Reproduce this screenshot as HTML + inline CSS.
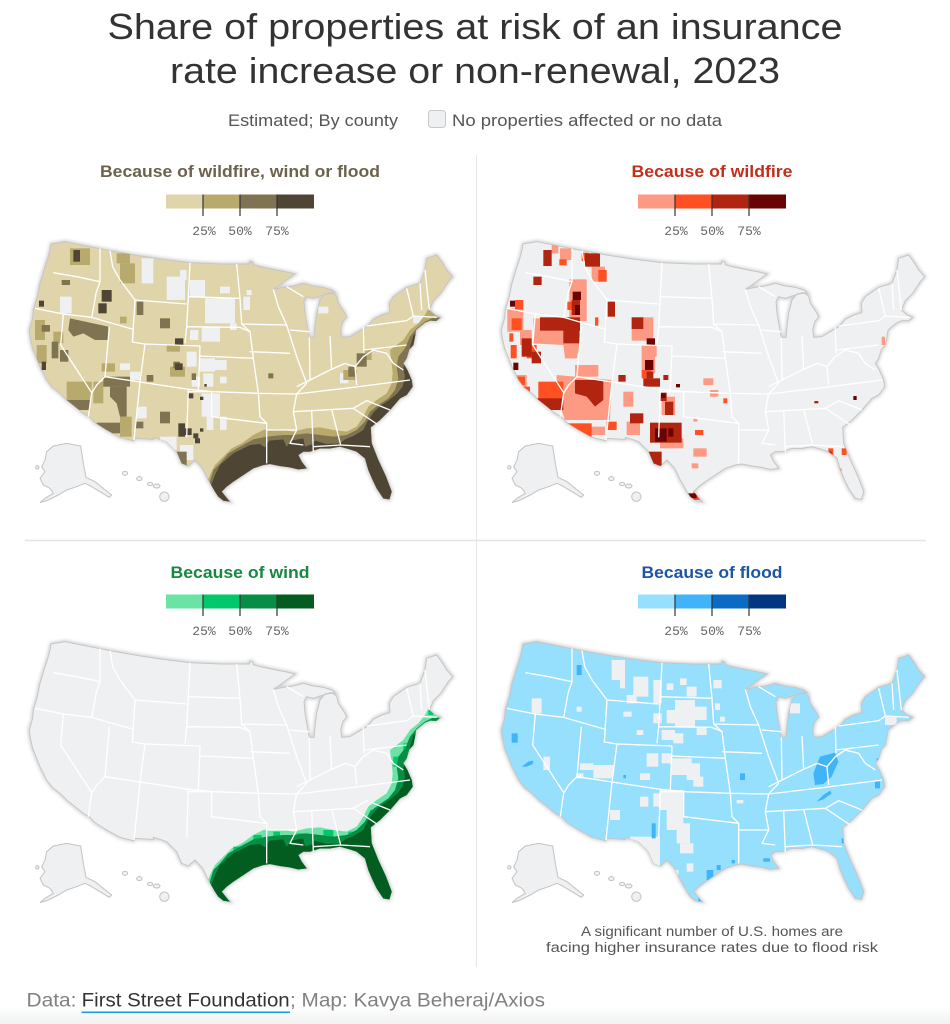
<!DOCTYPE html>
<html><head><meta charset="utf-8"><style>
html,body{margin:0;padding:0;background:#fff;}
svg{display:block;}
text{font-family:"Liberation Sans",Arial,sans-serif;}
.mono{font-family:"Liberation Mono",monospace;}
</style></head><body>
<svg width="950" height="1024" viewBox="0 0 950 1024" xmlns="http://www.w3.org/2000/svg">
<defs>
<linearGradient id="fg" x1="0" y1="0" x2="0" y2="1"><stop offset="0" stop-color="#ffffff"/><stop offset="1" stop-color="#f1f2f2"/></linearGradient>
<filter id="blur" x="-10%" y="-10%" width="120%" height="120%"><feGaussianBlur stdDeviation="5"/></filter>
<path id="us" d="M93,42 L135,35 L200,48 L270,62 L350,76 L430,88 L510,98 L600,102 L688,102 L690,94 L698,96 L700,104 L720,110 L760,118 L800,126 L825,132 L800,150 L775,168 L760,178 L790,172 L820,168 L850,160 L880,168 L910,172 L935,180 L945,188 L920,192 L900,198 L880,205 L860,200 L852,215 L855,250 L862,290 L868,322 L882,322 L885,290 L890,250 L900,210 L915,192 L935,188 L950,198 L955,220 L975,250 L980,262 L968,275 L962,300 L965,322 L990,320 L1015,305 L1040,290 L1050,280 L1060,268 L1085,255 L1110,248 L1108,220 L1120,200 L1160,172 L1200,160 L1215,120 L1220,85 L1250,75 L1268,100 L1280,120 L1298,140 L1285,155 L1262,190 L1240,212 L1228,240 L1245,255 L1262,262 L1250,272 L1230,272 L1215,278 L1200,290 L1188,300 L1185,320 L1180,345 L1168,358 L1160,385 L1150,400 L1162,420 L1175,450 L1178,470 L1160,495 L1140,505 L1110,540 L1080,570 L1052,592 L1055,640 L1075,690 L1098,740 L1115,785 L1108,808 L1090,805 L1070,775 L1058,750 L1045,720 L1035,685 L1010,665 L990,658 L960,650 L930,655 L900,655 L870,665 L850,665 L835,675 L845,695 L860,715 L835,718 L810,712 L780,708 L750,702 L730,705 L700,715 L670,735 L640,755 L620,770 L605,785 L625,810 L630,815 L610,812 L595,800 L585,785 L565,750 L548,715 L525,690 L505,708 L485,700 L470,665 L440,635 L420,628 L400,622 L400,628 L345,625 L340,632 L300,622 L260,600 L225,578 L210,562 L190,550 L165,530 L140,510 L120,490 L97,472 L80,450 L70,430 L60,410 L50,385 L38,355 L32,330 L28,300 L38,265 L40,240 L52,200 L60,160 L72,120 L85,80 L90,60 Z"/>
<clipPath id="usclip"><path d="M93,42 L135,35 L200,48 L270,62 L350,76 L430,88 L510,98 L600,102 L688,102 L690,94 L698,96 L700,104 L720,110 L760,118 L800,126 L825,132 L800,150 L775,168 L760,178 L790,172 L820,168 L850,160 L880,168 L910,172 L935,180 L945,188 L920,192 L900,198 L880,205 L860,200 L852,215 L855,250 L862,290 L868,322 L882,322 L885,290 L890,250 L900,210 L915,192 L935,188 L950,198 L955,220 L975,250 L980,262 L968,275 L962,300 L965,322 L990,320 L1015,305 L1040,290 L1050,280 L1060,268 L1085,255 L1110,248 L1108,220 L1120,200 L1160,172 L1200,160 L1215,120 L1220,85 L1250,75 L1268,100 L1280,120 L1298,140 L1285,155 L1262,190 L1240,212 L1228,240 L1245,255 L1262,262 L1250,272 L1230,272 L1215,278 L1200,290 L1188,300 L1185,320 L1180,345 L1168,358 L1160,385 L1150,400 L1162,420 L1175,450 L1178,470 L1160,495 L1140,505 L1110,540 L1080,570 L1052,592 L1055,640 L1075,690 L1098,740 L1115,785 L1108,808 L1090,805 L1070,775 L1058,750 L1045,720 L1035,685 L1010,665 L990,658 L960,650 L930,655 L900,655 L870,665 L850,665 L835,675 L845,695 L860,715 L835,718 L810,712 L780,708 L750,702 L730,705 L700,715 L670,735 L640,755 L620,770 L605,785 L625,810 L630,815 L610,812 L595,800 L585,785 L565,750 L548,715 L525,690 L505,708 L485,700 L470,665 L440,635 L420,628 L400,622 L400,628 L345,625 L340,632 L300,622 L260,600 L225,578 L210,562 L190,550 L165,530 L140,510 L120,490 L97,472 L80,450 L70,430 L60,410 L50,385 L38,355 L32,330 L28,300 L38,265 L40,240 L52,200 L60,160 L72,120 L85,80 L90,60 Z"/></clipPath>
<path id="states" fill="none" stroke="#ffffff" stroke-width="4" stroke-linejoin="round" d="M100,128 L170,140 L240,155 M240,55 L240,155 L228,190 L222,225 L215,262 M45,235 L130,252 L215,262 L340,298 M130,252 L122,345 L215,488 L205,560 M268,290 L255,440 L230,465 L215,490 M255,440 L360,456 L505,478 L580,485 L715,490 L830,492 L1000,472 L1170,450 M360,456 L342,630 M505,478 L500,622 M340,298 L337,336 L375,342 L540,348 M375,342 L360,456 M345,210 L500,222 M345,210 L337,336 M270,62 L278,110 L300,150 L330,190 L345,210 M510,98 L505,200 L500,290 L495,340 M540,348 L535,480 M505,200 L660,205 M500,290 L660,292 L690,305 M540,378 L700,385 M650,102 L660,205 L665,282 L800,285 M665,282 L690,305 L700,385 L715,490 M690,365 L810,370 M760,178 L775,230 L800,285 M810,300 L868,305 M800,285 L830,380 L860,460 L830,492 M868,322 L870,450 M930,318 L935,420 M1030,290 L1032,370 M1040,288 L1160,272 M1032,360 L1160,345 M830,470 L870,450 L930,420 L975,400 L1005,410 L1030,380 M830,492 L820,545 L1000,535 M740,600 L830,600 L810,640 L850,645 M820,545 L830,600 M875,540 L880,665 M935,538 L962,645 L1050,650 M880,650 L962,645 M1000,535 L1040,512 L1110,540 M1000,535 L1075,585 M715,490 L720,560 L740,580 L740,700 M575,485 L575,560 L740,580 M505,485 L575,485 M1160,175 L1180,258 M1200,160 L1205,240 M1215,120 L1228,240 M1180,258 L1250,262 M1160,272 L1180,258 M1030,380 L1060,360 L1100,370 L1120,400 L1150,420 M1010,465 L1005,410 M800,170 L850,200"/>
<g id="akhi" fill="#eff0f1" stroke="#c2c2c2" stroke-width="3">
<path d="M80,665 L100,648 L140,640 L182,648 L190,700 L198,742 L225,755 L250,775 L275,795 L268,802 L240,785 L215,770 L195,760 L170,770 L140,780 L115,795 L85,810 L60,818 L75,805 L100,790 L90,775 L70,765 L60,745 L75,725 L65,710 L75,690 Z"/>
<circle cx="52" cy="712" r="5"/>
<ellipse cx="315" cy="730" rx="8" ry="6"/><ellipse cx="358" cy="746" rx="8" ry="6"/><ellipse cx="390" cy="762" rx="8" ry="5"/><ellipse cx="410" cy="768" rx="10" ry="6"/><ellipse cx="433" cy="800" rx="14" ry="14"/>
</g>
<path id="gulfL" d="M560,760 L570,735 L585,705 L610,680 L635,655 L665,640 L700,615 L730,600 L780,598 L820,605 L860,595 L900,592 L940,600 L980,605 L1010,590 L1030,560 L1045,530 L1070,510 L1100,490 L1115,460 L1118,430 L1115,400 L1110,360 L1130,345 L1150,330 L1170,300 L1195,280 L1215,255 L1225,235 L1240,232 L1250,260 L1320,270 L1320,900 L540,900 Z"/>
<path id="gulfM" d="M565,770 L580,720 L600,700 L625,670 L660,650 L700,628 L740,620 L790,615 L820,615 L860,610 L900,615 L940,620 L980,615 L1010,600 L1035,575 L1050,545 L1075,525 L1105,505 L1125,480 L1135,445 L1130,410 L1135,380 L1155,355 L1170,320 L1190,295 L1215,275 L1240,262 L1320,270 L1320,900 L540,900 Z"/>
<path id="gulfD" d="M560,800 L585,735 L600,705 L640,670 L690,645 L720,642 L735,652 L748,632 L790,628 L800,650 L815,632 L850,625 L855,650 L875,643 L885,632 L920,642 L960,640 L975,628 L1000,618 L1030,600 L1042,575 L1060,548 L1080,528 L1105,512 L1130,492 L1148,470 L1155,440 L1150,415 L1155,395 L1165,375 L1172,345 L1180,318 L1195,298 L1215,282 L1240,270 L1320,275 L1320,900 L540,900 Z"/>
</defs>

<!-- Title -->
<text x="475" y="39" text-anchor="middle" font-size="36" fill="#333" textLength="735" lengthAdjust="spacingAndGlyphs">Share of properties at risk of an insurance</text>
<text x="475" y="83" text-anchor="middle" font-size="36" fill="#333" textLength="610" lengthAdjust="spacingAndGlyphs">rate increase or non-renewal, 2023</text>
<text x="228" y="126" font-size="17" fill="#555" textLength="170" lengthAdjust="spacingAndGlyphs">Estimated; By county</text>
<rect x="428.5" y="110.5" width="17" height="17" rx="3" fill="#eff0f1" stroke="#c8c8c8"/>
<text x="452" y="126" font-size="17" fill="#555" textLength="270" lengthAdjust="spacingAndGlyphs">No properties affected or no data</text>

<!-- dividers -->
<line x1="476.5" y1="155" x2="476.5" y2="967" stroke="#e6e6e6" stroke-width="1"/>
<line x1="25" y1="540.5" x2="926" y2="540.5" stroke="#e6e6e6" stroke-width="1.5"/>

<!-- Panel titles & legends -->
<text x="240" y="177" text-anchor="middle" font-size="17" font-weight="bold" fill="#6d634c" textLength="280" lengthAdjust="spacingAndGlyphs">Because of wildfire, wind or flood</text>
<text x="712" y="177" text-anchor="middle" font-size="17" font-weight="bold" fill="#c22f1b" textLength="161" lengthAdjust="spacingAndGlyphs">Because of wildfire</text>
<text x="240" y="578" text-anchor="middle" font-size="17" font-weight="bold" fill="#17883f" textLength="139" lengthAdjust="spacingAndGlyphs">Because of wind</text>
<text x="712" y="578" text-anchor="middle" font-size="17" font-weight="bold" fill="#1b55a3" textLength="141" lengthAdjust="spacingAndGlyphs">Because of flood</text>

<g>
<rect x="166" y="194.5" width="37" height="14" fill="#e0d4aa"/><rect x="203" y="194.5" width="37" height="14" fill="#b8a96c"/><rect x="240" y="194.5" width="37" height="14" fill="#7f7352"/><rect x="277" y="194.5" width="37" height="14" fill="#4f4535"/>
<rect x="638" y="194.5" width="37" height="14" fill="#fd9a83"/><rect x="675" y="194.5" width="37" height="14" fill="#fe5022"/><rect x="712" y="194.5" width="37" height="14" fill="#b1240f"/><rect x="749" y="194.5" width="37" height="14" fill="#6a0303"/>
<rect x="166" y="594.5" width="37" height="14" fill="#6ae3a5"/><rect x="203" y="594.5" width="37" height="14" fill="#00c86b"/><rect x="240" y="594.5" width="37" height="14" fill="#088d45"/><rect x="277" y="594.5" width="37" height="14" fill="#035d21"/>
<rect x="638" y="594.5" width="37" height="14" fill="#96dffd"/><rect x="675" y="594.5" width="37" height="14" fill="#41b3f9"/><rect x="712" y="594.5" width="37" height="14" fill="#0b6ac4"/><rect x="749" y="594.5" width="37" height="14" fill="#023683"/>
<g stroke="#333" stroke-width="1.2">
<line x1="203" y1="194.5" x2="203" y2="216"/><line x1="240" y1="194.5" x2="240" y2="216"/><line x1="277" y1="194.5" x2="277" y2="216"/>
<line x1="675" y1="194.5" x2="675" y2="216"/><line x1="712" y1="194.5" x2="712" y2="216"/><line x1="749" y1="194.5" x2="749" y2="216"/>
<line x1="203" y1="594.5" x2="203" y2="616"/><line x1="240" y1="594.5" x2="240" y2="616"/><line x1="277" y1="594.5" x2="277" y2="616"/>
<line x1="675" y1="594.5" x2="675" y2="616"/><line x1="712" y1="594.5" x2="712" y2="616"/><line x1="749" y1="594.5" x2="749" y2="616"/>
</g>
<g class="mono" font-size="13" fill="#666" text-anchor="middle">
<text class="mono" x="204" y="235">25%</text><text class="mono" x="240" y="235">50%</text><text class="mono" x="277" y="235">75%</text>
<text class="mono" x="676" y="235">25%</text><text class="mono" x="712" y="235">50%</text><text class="mono" x="749" y="235">75%</text>
<text class="mono" x="204" y="635">25%</text><text class="mono" x="240" y="635">50%</text><text class="mono" x="277" y="635">75%</text>
<text class="mono" x="676" y="635">25%</text><text class="mono" x="712" y="635">50%</text><text class="mono" x="749" y="635">75%</text>
</g>
</g>

<!-- MAP 1: composite -->
<g transform="translate(20,230) scale(0.333333)">
<use href="#us" fill="none" stroke="#aaa" stroke-width="10" filter="url(#blur)" opacity="0.55"/>
<use href="#us" fill="#e0d4aa" stroke="#c6c6c6" stroke-width="3"/>
<g clip-path="url(#usclip)">
<g fill="#eff0f1">
<rect x="365" y="85" width="35" height="75"/><rect x="440" y="140" width="55" height="70"/><rect x="480" y="120" width="20" height="30"/><rect x="510" y="150" width="45" height="50"/><rect x="555" y="205" width="90" height="75"/><rect x="600" y="170" width="30" height="20"/><rect x="680" y="180" width="15" height="15"/><rect x="120" y="200" width="35" height="50"/><rect x="545" y="290" width="55" height="45"/><rect x="510" y="300" width="25" height="30"/><rect x="540" y="385" width="45" height="40"/><rect x="585" y="390" width="35" height="30"/><rect x="550" y="430" width="30" height="40"/><rect x="600" y="440" width="20" height="20"/><rect x="500" y="365" width="30" height="45"/><rect x="515" y="440" width="25" height="30"/><rect x="545" y="490" width="55" height="70"/><rect x="560" y="540" width="20" height="60"/><rect x="420" y="620" width="50" height="40"/><rect x="480" y="645" width="40" height="45"/><rect x="600" y="560" width="20" height="40"/><rect x="350" y="530" width="30" height="35"/><rect x="300" y="400" width="30" height="20"/><rect x="330" y="425" width="30" height="25"/><rect x="895" y="230" width="30" height="20"/><rect x="960" y="430" width="25" height="30"/><rect x="670" y="200" width="20" height="40"/><rect x="1180" y="258" width="35" height="22"/><rect x="630" y="280" width="20" height="20"/>
</g>
<g fill="#b8a96c">
<rect x="150" y="55" width="60" height="50"/><rect x="290" y="70" width="40" height="30"/><rect x="300" y="100" width="45" height="60"/><rect x="45" y="270" width="30" height="60"/><rect x="50" y="345" width="30" height="55"/><rect x="100" y="305" width="30" height="35"/><rect x="140" y="455" width="75" height="55"/><rect x="300" y="560" width="35" height="60"/><rect x="220" y="455" width="30" height="65"/><rect x="245" y="400" width="40" height="25"/><rect x="440" y="345" width="40" height="20"/><rect x="450" y="410" width="45" height="30"/><rect x="300" y="260" width="20" height="20"/><rect x="970" y="420" width="40" height="30"/><rect x="1030" y="360" width="25" height="30"/>
</g>
<g fill="#7f7352">
<path d="M150,265 L265,290 L265,330 L225,330 L190,310 L160,320 L145,300 Z"/>
<rect x="125" y="150" width="25" height="15"/><rect x="65" y="285" width="25" height="20"/><rect x="95" y="335" width="20" height="50"/><rect x="120" y="360" width="25" height="35"/><rect x="250" y="440" width="80" height="30"/><path d="M270,470 L320,470 L320,560 L300,560 L290,520 L270,500 Z"/><rect x="140" y="510" width="70" height="30"/><rect x="230" y="578" width="70" height="32"/><rect x="420" y="265" width="30" height="30"/><rect x="350" y="215" width="20" height="40"/><rect x="420" y="545" width="30" height="35"/><rect x="345" y="575" width="25" height="20"/><rect x="460" y="395" width="20" height="20"/><rect x="380" y="435" width="20" height="20"/><rect x="515" y="430" width="13" height="20"/><rect x="470" y="665" width="30" height="47"/><rect x="1010" y="370" width="30" height="40"/><rect x="985" y="410" width="20" height="30"/><rect x="745" y="430" width="15" height="15"/>
</g>
<g fill="#4f4535">
<rect x="160" y="60" width="20" height="35"/><rect x="245" y="180" width="30" height="35"/><rect x="235" y="220" width="25" height="30"/><rect x="57" y="212" width="15" height="18"/><rect x="65" y="395" width="13" height="25"/><rect x="465" y="325" width="25" height="20"/><rect x="465" y="400" width="23" height="20"/><rect x="505" y="490" width="15" height="15"/><rect x="540" y="500" width="10" height="10"/><rect x="475" y="580" width="20" height="40"/><rect x="495" y="595" width="20" height="20"/><rect x="520" y="610" width="15" height="15"/><rect x="540" y="595" width="10" height="10"/><rect x="525" y="625" width="15" height="15"/><rect x="553" y="462" width="7" height="8"/>
</g>
<use href="#gulfL" fill="#b8a96c"/>
<use href="#gulfM" fill="#7f7352"/>
<use href="#gulfD" fill="#4f4535"/>
</g>
<use href="#states"/>
<use href="#akhi"/>
</g>

<!-- MAP 2: wildfire -->
<g transform="translate(492,230) scale(0.333333)">
<use href="#us" fill="none" stroke="#aaa" stroke-width="10" filter="url(#blur)" opacity="0.55"/>
<use href="#us" fill="#eff0f1" stroke="#c6c6c6" stroke-width="3"/>
<g clip-path="url(#usclip)"><g transform="translate(-36,0)">
<g fill="#fd9a83">
<rect x="215" y="45" width="20" height="25"/><rect x="240" y="55" width="35" height="35"/><rect x="335" y="110" width="40" height="45"/><rect x="268" y="148" width="52" height="125"/><rect x="82" y="235" width="48" height="70"/><rect x="120" y="300" width="35" height="45"/>
<path d="M160,265 L300,265 L300,340 L290,385 L255,385 L250,345 L160,340 Z"/>
<rect x="455" y="262" width="65" height="70"/><rect x="485" y="345" width="45" height="35"/><rect x="485" y="375" width="40" height="55"/><rect x="285" y="405" width="70" height="35"/><rect x="100" y="435" width="40" height="65"/><rect x="170" y="535" width="40" height="20"/>
<path d="M230,435 L395,450 L390,570 L255,570 L230,500 Z"/>
<rect x="320" y="590" width="55" height="25"/><rect x="430" y="485" width="30" height="45"/><rect x="440" y="575" width="40" height="40"/><rect x="545" y="500" width="40" height="55"/><rect x="540" y="625" width="70" height="30"/><rect x="470" y="665" width="35" height="35"/><rect x="640" y="655" width="40" height="25"/><rect x="635" y="700" width="20" height="15"/><rect x="640" y="565" width="12" height="10"/><rect x="670" y="445" width="30" height="20"/><rect x="690" y="480" width="25" height="20"/><rect x="1065" y="715" width="20" height="10"/><rect x="1205" y="320" width="10" height="25"/>
</g>
<g fill="#fe5022">
<rect x="238" y="88" width="22" height="18"/><rect x="305" y="68" width="20" height="25"/><rect x="355" y="120" width="25" height="35"/><rect x="262" y="215" width="15" height="25"/><rect x="105" y="210" width="25" height="28"/><rect x="95" y="265" width="30" height="35"/><rect x="140" y="345" width="30" height="40"/><rect x="88" y="310" width="12" height="25"/><rect x="92" y="345" width="18" height="40"/><rect x="345" y="262" width="10" height="25"/><rect x="485" y="420" width="30" height="25"/><rect x="105" y="440" width="30" height="25"/><rect x="130" y="470" width="20" height="30"/><rect x="175" y="455" width="75" height="55"/><rect x="255" y="580" width="80" height="40"/><rect x="380" y="575" width="30" height="25"/><rect x="580" y="595" width="20" height="25"/><rect x="645" y="600" width="25" height="15"/><rect x="640" y="785" width="25" height="25"/><rect x="730" y="505" width="12" height="15"/><rect x="1045" y="655" width="15" height="35"/><rect x="1085" y="655" width="15" height="20"/>
</g>
<g fill="#b1240f">
<rect x="190" y="60" width="25" height="48"/><rect x="315" y="70" width="45" height="40"/><rect x="160" y="140" width="25" height="25"/><rect x="275" y="210" width="25" height="45"/><rect x="125" y="325" width="30" height="55"/><rect x="155" y="365" width="28" height="35"/><rect x="180" y="262" width="120" height="40"/><rect x="250" y="290" width="48" height="50"/><rect x="383" y="215" width="22" height="45"/><rect x="455" y="262" width="35" height="35"/><rect x="490" y="445" width="50" height="25"/><rect x="500" y="425" width="20" height="20"/><rect x="550" y="435" width="15" height="15"/><rect x="415" y="435" width="22" height="20"/><rect x="170" y="505" width="80" height="35"/>
<path d="M285,450 L370,450 L370,510 L345,530 L320,500 L285,490 Z"/>
<rect x="450" y="550" width="40" height="30"/><rect x="540" y="488" width="20" height="25"/><rect x="555" y="515" width="25" height="40"/><rect x="510" y="578" width="95" height="60"/><rect x="500" y="665" width="45" height="50"/><rect x="1045" y="665" width="10" height="25"/><rect x="1003" y="513" width="12" height="7"/>
</g>
<g fill="#6a0303">
<rect x="278" y="185" width="25" height="25"/><rect x="285" y="225" width="15" height="30"/><rect x="90" y="212" width="15" height="18"/><rect x="100" y="398" width="15" height="22"/><rect x="500" y="325" width="25" height="20"/><rect x="495" y="390" width="25" height="30"/><rect x="588" y="462" width="12" height="10"/><rect x="525" y="595" width="35" height="40"/><rect x="565" y="595" width="15" height="25"/><rect x="625" y="790" width="25" height="15"/><rect x="1120" y="498" width="10" height="12"/><rect x="543" y="490" width="14" height="14"/>
</g>
</g></g>
<use href="#states"/>
<use href="#akhi"/>
</g>

<!-- MAP 3: wind -->
<g transform="translate(20,630) scale(0.333333)">
<use href="#us" fill="none" stroke="#aaa" stroke-width="10" filter="url(#blur)" opacity="0.55"/>
<use href="#us" fill="#eff0f1" stroke="#c6c6c6" stroke-width="3"/>
<g clip-path="url(#usclip)">
<use href="#gulfL" fill="#6ae3a5"/>
<g fill="#00c86b"><rect x="640" y="650" width="30" height="20"/><rect x="700" y="615" width="25" height="20"/><rect x="830" y="610" width="25" height="20"/><rect x="910" y="600" width="30" height="20"/><rect x="1050" y="540" width="20" height="20"/><rect x="1120" y="380" width="15" height="30"/><rect x="1150" y="340" width="15" height="20"/><rect x="1225" y="240" width="15" height="15"/><rect x="760" y="605" width="20" height="20"/><rect x="985" y="605" width="20" height="15"/></g>
<use href="#gulfM" fill="#088d45"/>
<use href="#gulfD" fill="#035d21"/>
</g>
<use href="#states"/>
<use href="#akhi"/>
</g>

<!-- MAP 4: flood -->
<g transform="translate(492,630) scale(0.333333)">
<use href="#us" fill="none" stroke="#aaa" stroke-width="10" filter="url(#blur)" opacity="0.55"/>
<use href="#us" fill="#96dffd" stroke="#c6c6c6" stroke-width="3"/>
<g clip-path="url(#usclip)"><g transform="translate(-36,0)">
<g fill="#eff0f1">
<rect x="395" y="90" width="40" height="60"/><rect x="420" y="150" width="15" height="25"/><rect x="460" y="140" width="45" height="60"/><rect x="520" y="150" width="25" height="70"/><rect x="440" y="195" width="30" height="25"/><rect x="560" y="160" width="20" height="20"/><rect x="600" y="145" width="20" height="20"/><rect x="620" y="170" width="30" height="30"/><rect x="700" y="150" width="25" height="25"/><rect x="585" y="210" width="60" height="80"/><rect x="640" y="230" width="40" height="40"/><rect x="560" y="240" width="30" height="40"/><rect x="520" y="250" width="25" height="30"/><rect x="545" y="300" width="40" height="30"/><rect x="580" y="310" width="30" height="30"/><rect x="650" y="290" width="30" height="25"/><rect x="575" y="385" width="60" height="50"/><rect x="620" y="400" width="40" height="50"/><rect x="545" y="370" width="30" height="30"/><rect x="640" y="440" width="30" height="30"/><rect x="500" y="370" width="35" height="40"/><rect x="480" y="430" width="30" height="20"/><rect x="540" y="480" width="70" height="60"/><rect x="560" y="520" width="50" height="80"/><rect x="590" y="580" width="40" height="60"/><rect x="520" y="490" width="30" height="40"/><rect x="390" y="540" width="30" height="30"/><rect x="480" y="500" width="25" height="30"/><rect x="450" y="620" width="90" height="30"/><rect x="500" y="640" width="40" height="70"/><rect x="470" y="650" width="30" height="30"/><rect x="600" y="640" width="40" height="30"/><rect x="620" y="700" width="20" height="25"/><rect x="580" y="720" width="15" height="15"/><rect x="300" y="400" width="40" height="20"/><rect x="340" y="405" width="60" height="40"/><rect x="290" y="430" width="20" height="15"/><rect x="190" y="380" width="20" height="40"/><rect x="155" y="205" width="30" height="45"/><rect x="290" y="230" width="15" height="15"/><rect x="430" y="245" width="25" height="15"/><rect x="470" y="300" width="20" height="15"/><rect x="930" y="220" width="30" height="30"/><rect x="1215" y="260" width="35" height="25"/><rect x="705" y="220" width="15" height="20"/><rect x="720" y="260" width="15" height="15"/><rect x="770" y="510" width="20" height="10"/>
</g>
<g fill="#41b3f9">
<rect x="290" y="105" width="15" height="30"/><rect x="95" y="310" width="18" height="28"/><path d="M125,410 L145,395 L160,392 L158,402 L140,410 Z"/><rect x="780" y="430" width="15" height="20"/><rect x="515" y="580" width="12" height="45"/><rect x="430" y="435" width="8" height="10"/>
<path d="M1020,380 L1065,368 L1075,395 L1055,440 L1030,462 L1005,465 L1000,430 Z"/>
<path d="M1010,515 L1030,495 L1050,482 L1055,490 L1030,508 Z"/>
<rect x="1185" y="455" width="15" height="20"/><rect x="1190" y="385" width="12" height="15"/><rect x="680" y="720" width="20" height="30"/><rect x="710" y="705" width="12" height="15"/><rect x="655" y="800" width="15" height="15"/><rect x="850" y="685" width="20" height="10"/><rect x="1085" y="625" width="10" height="15"/><rect x="755" y="690" width="10" height="10"/>
</g>
</g></g>
<use href="#states"/>
<use href="#akhi"/>
</g>

<!-- flood annotation -->
<text x="712" y="936" text-anchor="middle" font-size="13.5" fill="#555" textLength="262" lengthAdjust="spacingAndGlyphs">A significant number of U.S. homes are</text>
<text x="712" y="952" text-anchor="middle" font-size="13.5" fill="#555" textLength="332" lengthAdjust="spacingAndGlyphs">facing higher insurance rates due to flood risk</text>

<!-- footer -->
<rect x="0" y="1006" width="950" height="18" fill="url(#fg)"/>
<text x="26.5" y="1006.5" font-size="19.5" fill="#808080" textLength="50" lengthAdjust="spacingAndGlyphs">Data:</text>
<text x="81.7" y="1006.5" font-size="19.5" fill="#333" textLength="208" lengthAdjust="spacingAndGlyphs">First Street Foundation</text>
<text x="290" y="1006.5" font-size="19.5" fill="#808080" textLength="255" lengthAdjust="spacingAndGlyphs">; Map: Kavya Beheraj/Axios</text>
<rect x="81.7" y="1011.5" width="208.3" height="1.6" fill="#1a9ae0"/>
</svg>
</body></html>
